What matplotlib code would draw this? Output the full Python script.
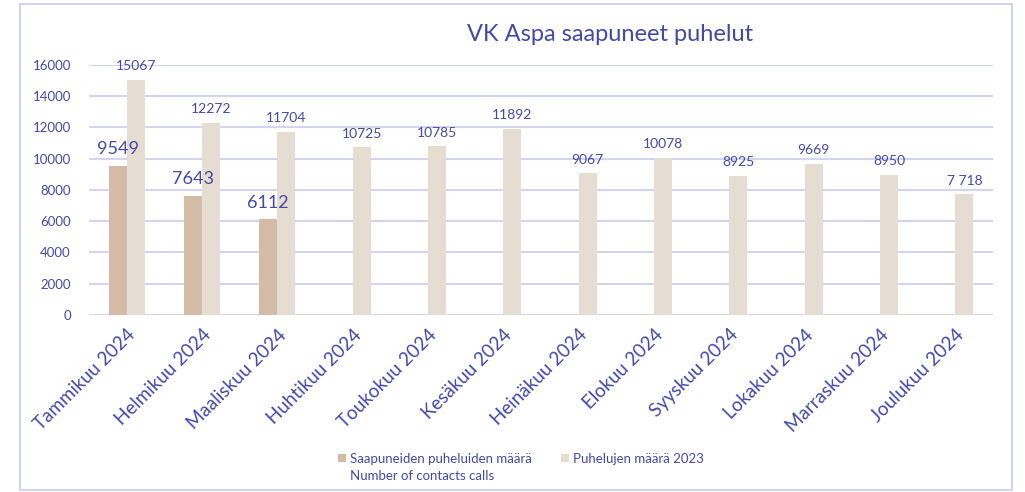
import matplotlib.pyplot as plt
import matplotlib.patches as mpatches
import numpy as np

# data
months = ["Tammikuu 2024", "Helmikuu 2024", "Maaliskuu 2024", "Huhtikuu 2024",
          "Toukokuu 2024", "Kesäkuu 2024", "Heinäkuu 2024", "Elokuu 2024",
          "Syyskuu 2024", "Lokakuu 2024", "Marraskuu 2024", "Joulukuu 2024"]
calls_2024 = [9549, 7643, 6112]
calls_2023 = [15067, 12272, 11704, 10725, 10785, 11892, 9067, 10078, 8925, 9669, 8950, 7718]
labels_2023 = ["15067", "12272", "11704", "10725", "10785", "11892", "9067",
               "10078", "8925", "9669", "8950", "7 718"]
yticks = [0, 2000, 4000, 6000, 8000, 10000, 12000, 14000, 16000]

txt = "#4549A6"
grid_c = "#D3D5EE"
dark = "#D3BBA6"
light = "#E6DDD2"

plt.rcParams['font.family'] = ['Lato', 'DejaVu Sans']

fig = plt.figure(figsize=(10.25, 4.92), dpi=100)
ax = fig.add_axes([0.0868, 0.3598, 0.882, 0.5081])

x = np.arange(len(months))
w = 0.24
b1 = ax.bar(x[:len(calls_2024)] - w / 2, calls_2024, w, color=dark,
            label="Saapuneiden puheluiden määrä", zorder=2)
b2 = ax.bar(x + w / 2, calls_2023, w, color=light, label="Puhelujen määrä 2023", zorder=2)

for xi, v in zip(x, calls_2024):
    ax.text(xi - w / 2, v + 550, str(v), ha='center', va='bottom',
            fontsize=13, color=txt)
for xi, v, s in zip(x, calls_2023, labels_2023):
    ax.text(xi + w / 2, v + 500, s, ha='center', va='bottom', fontsize=10, color=txt)

ax.set_xlim(-0.5, len(months) - 0.5)
ax.set_ylim(0, 16000)
ax.set_yticks(yticks)
ax.set_yticklabels([str(t) for t in yticks], color=txt, fontsize=9.5)
ax.set_xticks(x)
ax.set_xticklabels(months, rotation=45, ha='right', rotation_mode='anchor',
                   color=txt, fontsize=13.5)
ax.tick_params(axis='y', length=0, pad=13)
ax.tick_params(axis='x', length=0, pad=8)
ax.grid(axis='y', color=grid_c, linewidth=1.5, zorder=0)
ax.set_axisbelow(True)
for s in ax.spines.values():
    s.set_visible(False)

fig.text(0.595, 0.93, "VK Aspa saapuneet puhelut", ha='center', va='center',
         fontsize=17, color=txt)

leg = fig.legend(handles=[b1, b2], loc='upper left',
                 bbox_to_anchor=(326 / 1025, 1 - 441 / 492),
                 ncol=2, frameon=False, fontsize=9.5, handlelength=0.6, handleheight=0.6,
                 columnspacing=2.2, handletextpad=0.3)
for t in leg.get_texts():
    t.set_color(txt)

# second line of the first legend entry
fig.canvas.draw()
bb = leg.get_texts()[0].get_window_extent()
fig.text(bb.x0 / 1025, (bb.y0 - 5) / 492, "Number of contacts calls",
         ha='left', va='top', fontsize=9.5, color=txt)

fig.patches.append(mpatches.Rectangle((20 / 1025, 2 / 492), 992 / 1025, 486 / 492,
                                      transform=fig.transFigure, fill=False,
                                      edgecolor=grid_c, linewidth=1.5))

fig.savefig("out.png", dpi=100)
